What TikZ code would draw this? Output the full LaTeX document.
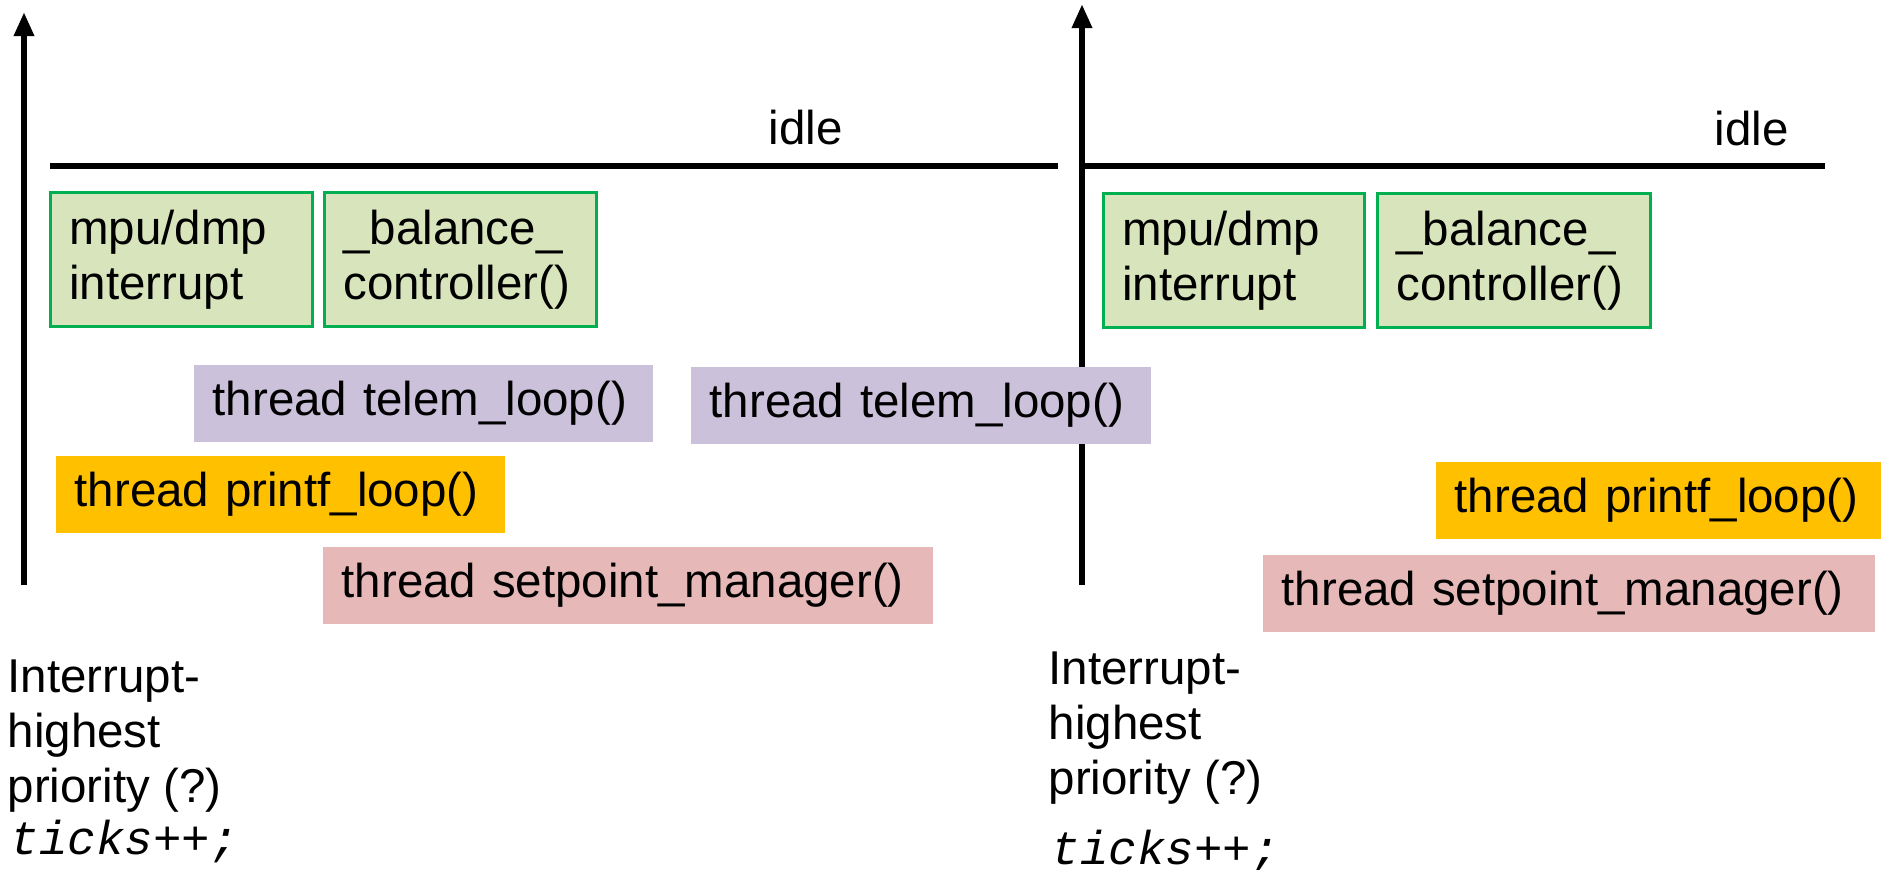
\documentclass[tikz,border=0pt]{standalone}
\usepackage{fontspec}
\setmainfont{Liberation Sans}
\newfontfamily\codefont{Liberation Mono}
\usetikzlibrary{arrows.meta,positioning}
\definecolor{IsrGreen}{HTML}{D8E4BC}
\definecolor{IsrEdge}{HTML}{00B050}
\definecolor{TelemLilac}{HTML}{CCC1DA}
\definecolor{PrintfAmber}{HTML}{FFC000}
\definecolor{SetpointRose}{HTML}{E6B9B8}

\begin{document}
\begin{tikzpicture}[x=0.01cm,y=-0.01cm,>={Triangle[length=0.24cm,width=0.19cm]},
  every node/.style={font=\fontsize{13.5}{15.6}\selectfont},
  task/.style={anchor=north west,inner xsep=0.19cm,inner ysep=0pt,align=left},
  isr/.style={task,draw=IsrEdge,line width=0.8pt,fill=IsrGreen,minimum height=1.34cm},
  thr/.style={task,minimum height=0.77cm},
  note/.style={anchor=base west,inner sep=0pt,align=left},
  axis/.style={->,line width=1.8pt},
  level/.style={line width=1.5pt}]
\useasboundingbox (0,0) rectangle (1881,869);

% priority axes and idle levels
\coordinate (lo0) at (24,585);  \coordinate (hi0) at (24,12);
\coordinate (lo1) at (1082,585);\coordinate (hi1) at (1082,4);
\coordinate (il0) at (50,166);  \coordinate (ir0) at (1058,166);
\coordinate (il1) at (1085,166);\coordinate (ir1) at (1825,166);
\foreach \p/\q in {lo0/hi0,lo1/hi1}{\draw[axis](\p)--(\q);}
\foreach \p/\q in {il0/ir0,il1/ir1}{\draw[level](\p)--(\q);}
\node[note](idle0) at (768,144) {idle};
\node[note](idle1) at (1714,145) {idle};

% first frame
\node[isr,text width=2.24cm](mpu0) at (49,191) {mpu/dmp\\interrupt};
\node[isr,text width=2.34cm,anchor=west,right=0.09cm of mpu0](bal0) {\_balance\_\\controller()};
\node[thr,fill=TelemLilac,text width=4.21cm](tel0) at (193,364) {thread telem\_loop()};
\node[thr,fill=PrintfAmber,text width=4.11cm](prn0) at (55,455) {thread printf\_loop()};
\node[thr,fill=SetpointRose,text width=5.72cm](set0) at (322,546) {thread setpoint\_manager()};
\node[note](lab0) at (7,802) {Interrupt-\\highest\\priority (?)};
\node[note](tck0) at (10,854) {\codefont\itshape ticks++;};

% second frame
\node[thr,fill=TelemLilac,text width=4.22cm](tel1) at (690,366) {thread telem\_loop()};
\node[isr,text width=2.23cm](mpu1) at (1102,192) {mpu/dmp\\interrupt};
\node[isr,text width=2.35cm,anchor=west,right=0.10cm of mpu1](bal1) {\_balance\_\\controller()};
\node[thr,fill=PrintfAmber,text width=4.10cm](prn1) at (1435,461) {thread printf\_loop()};
\node[thr,fill=SetpointRose,text width=5.74cm](set1) at (1262,554) {thread setpoint\_manager()};
\node[note](lab1) at (1048,794) {Interrupt-\\highest\\priority (?)};
\node[note](tck1) at (1051,864) {\codefont\itshape ticks++;};
\end{tikzpicture}
\end{document}
